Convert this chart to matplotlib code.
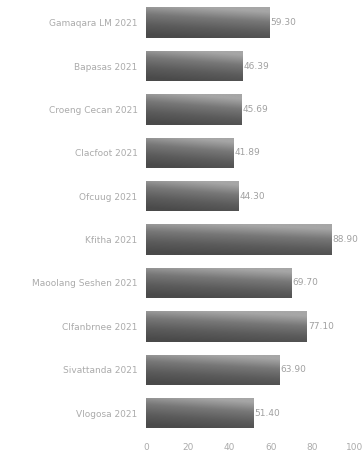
import numpy as np
import matplotlib.pyplot as plt
from matplotlib.colors import LinearSegmentedColormap

names = ['Gamaqara LM 2021', 'Bapasas 2021', 'Croeng Cecan 2021', 'Clacfoot 2021',
         'Ofcuug 2021', 'Kfitha 2021', 'Maoolang Seshen 2021', 'Clfanbrnee 2021',
         'Sivattanda 2021', 'Vlogosa 2021']
values = [59.30, 46.39, 45.69, 41.89, 44.30, 88.90, 69.70, 77.10, 63.90, 51.40]
xticks = [0, 20, 40, 60, 80, 100]

fig = plt.figure(figsize=(3.63, 4.53), dpi=100)
ax = fig.add_axes([0.402, 0.040, 0.574, 0.958])

y = np.arange(len(names))
bars = ax.barh(y, values, height=0.7, color='#707070', zorder=1)

# light at the top of each bar, dark at the bottom, a little darker on the left
cmap = LinearSegmentedColormap.from_list('g', ['#a6a6a6', '#777777', '#5c5c5c', '#4a4a4a'])
grad = np.linspace(0, 1, 64).reshape(-1, 1)
horiz = np.linspace(0.1, -0.15, 64).reshape(1, -1)
img = np.clip(grad + horiz, 0, 1)
for b in bars:
    x0, y0 = b.get_x(), b.get_y()
    w, h = b.get_width(), b.get_height()
    im = ax.imshow(img, cmap=cmap, vmin=0, vmax=1, aspect='auto',
                   extent=[x0, x0 + w, y0, y0 + h], origin='lower', zorder=2)
    im.set_clip_path(b)

for yi, v in zip(y, values):
    ax.text(v + 0.6, yi, f'{v:.2f}', va='center', ha='left', fontsize=6.5, color='#a0a0a0')

ax.set_xlim(0, 100)
ax.set_ylim(len(names) - 0.5, -0.5)
ax.set_yticks(y)
ax.set_yticklabels(names, fontsize=6.5, color='#ababab')
ax.set_xticks(xticks)
ax.set_xticklabels([str(t) for t in xticks], fontsize=6.5, color='#ababab')
ax.tick_params(axis='both', length=0, pad=6)
for s in ax.spines.values():
    s.set_visible(False)

fig.savefig('out.png', dpi=100)
